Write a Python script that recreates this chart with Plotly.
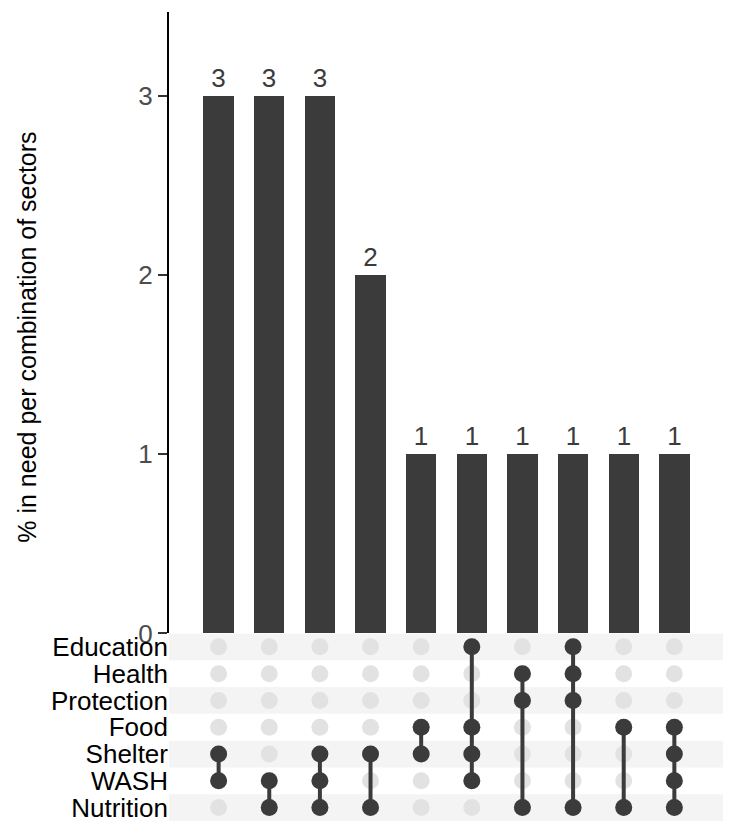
import plotly.graph_objects as go

# sectors, top to bottom as shown in the matrix
sectors = ["Education", "Health", "Protection", "Food", "Shelter", "WASH", "Nutrition"]

# each bar = one combination of sectors
combinations = [
    ["Shelter", "WASH"],
    ["WASH", "Nutrition"],
    ["Shelter", "WASH", "Nutrition"],
    ["Shelter", "Nutrition"],
    ["Food", "Shelter"],
    ["Education", "Food", "Shelter", "WASH"],
    ["Health", "Protection", "Nutrition"],
    ["Education", "Health", "Protection", "Nutrition"],
    ["Food", "Nutrition"],
    ["Food", "Shelter", "WASH", "Nutrition"],
]
pct_in_need = [3, 3, 3, 2, 1, 1, 1, 1, 1, 1]

DARK = "#3b3b3b"
LIGHT = "#e2e2e2"
STRIPE = "#f4f4f4"
FONT = "Liberation Sans"

n = len(combinations)
xs = list(range(n))
row_order = sectors[::-1]  # bottom row first on the axis
row_idx = {s: i for i, s in enumerate(row_order)}

fig = go.Figure()

# bars
fig.add_trace(go.Bar(
    x=xs, y=pct_in_need, width=0.6,
    marker=dict(color=DARK, line=dict(width=0)),
    text=[str(v) for v in pct_in_need], textposition="outside",
    textfont=dict(size=26, color="#3b3b3b", family=FONT),
    cliponaxis=False, xaxis="x", yaxis="y", showlegend=False,
))

# all grid dots (inactive)
gx, gy = [], []
for c in xs:
    for s in sectors:
        gx.append(c)
        gy.append(row_idx[s])
fig.add_trace(go.Scatter(
    x=gx, y=gy, mode="markers",
    marker=dict(size=17, color=LIGHT),
    xaxis="x", yaxis="y2", showlegend=False, hoverinfo="skip",
))

# connecting lines
lx, ly = [], []
for c, combo in enumerate(combinations):
    idx = sorted(row_idx[s] for s in combo)
    lx += [c, c, None]
    ly += [idx[0], idx[-1], None]
fig.add_trace(go.Scatter(
    x=lx, y=ly, mode="lines", line=dict(color=DARK, width=4),
    xaxis="x", yaxis="y2", showlegend=False, hoverinfo="skip",
))

# active dots
ax_, ay_ = [], []
for c, combo in enumerate(combinations):
    for s in combo:
        ax_.append(c)
        ay_.append(row_idx[s])
fig.add_trace(go.Scatter(
    x=ax_, y=ay_, mode="markers",
    marker=dict(size=17, color=DARK),
    xaxis="x", yaxis="y2", showlegend=False,
))

# striped rows
shapes = []
for s in sectors[::2]:
    i = row_idx[s]
    shapes.append(dict(
        type="rect", xref="x domain", yref="y2",
        x0=0, x1=1, y0=i - 0.5, y1=i + 0.5,
        fillcolor=STRIPE, line=dict(width=0), layer="below",
    ))

split = 0.2318

# page body has an 8px margin, so the figure is 8px smaller than the window
fig.update_layout(
    width=723, height=813,
    margin=dict(l=161, r=5, t=4, b=0),
    paper_bgcolor="white", plot_bgcolor="white",
    font=dict(family=FONT),
    bargap=0,
    shapes=shapes,
    xaxis=dict(
        range=[-0.98, 10.02], anchor="y2", showticklabels=False,
        showgrid=False, zeroline=False, showline=False, ticks="",
        automargin=False,
    ),
    yaxis=dict(
        domain=[split, 1], range=[0, 3.47],
        tickvals=[0, 1, 2, 3], showgrid=False, zeroline=False,
        showline=True, linecolor="black", linewidth=2,
        ticks="outside", ticklen=9, tickwidth=2, tickcolor="#333333",
        tickfont=dict(size=26, color="#4d4d4d", family=FONT),
        automargin=False, ticklabeloverflow="allow",
    ),
    yaxis2=dict(
        domain=[0, split], range=[-0.5, 6.5],
        tickmode="array", tickvals=[row_idx[s] for s in sectors], ticktext=sectors,
        showgrid=False, zeroline=False, showline=False, ticks="",
        tickfont=dict(size=26, color="black", family=FONT),
        automargin=False, ticklabeloverflow="allow",
    ),
    annotations=[dict(
        text="% in need per combination of sectors",
        xref="paper", yref="paper", x=-0.254, y=0.598,
        xanchor="center", yanchor="middle", textangle=-90,
        showarrow=False, font=dict(size=25, color="black", family=FONT),
    )],
)

fig.write_html("out.html")
